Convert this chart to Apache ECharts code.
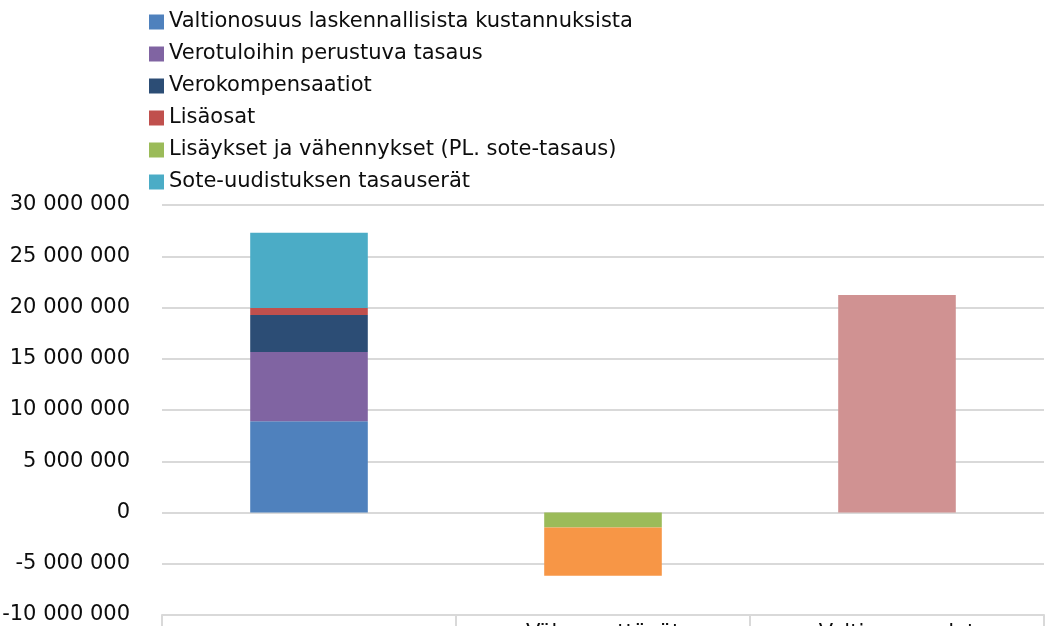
<!DOCTYPE html>
<html>
<head>
<meta charset="utf-8">
<script src="https://cdn.jsdelivr.net/npm/echarts@6/dist/echarts.min.js"></script>
<style>
  html, body { margin: 0; padding: 0; background: #fff; }
  #chart { width: 1048px; height: 626px; }
</style>
</head>
<body>
<div id="chart"></div>
<script>
// categories (labels are cut off at the bottom of the picture)
const categories = ['', 'Vähennettävät', 'Valtionosuudet']

// series values, one per stack segment
const laskennalliset = [8900000, null, null]
const verotulotasaus = [6760000, null, null]
const verokompensaatiot = [3620000, null, null]
const lisaosat = [680000, null, null]
const lisaykset = [null, -1470000, null]
const sotetasaus = [7340000, null, null]
const vahennykset = [null, -4690000, null]
const yhteensa = [null, null, 21230000]

const legendNames = [
  'Valtionosuus laskennallisista kustannuksista',
  'Verotuloihin perustuva tasaus',
  'Verokompensaatiot',
  'Lisäosat',
  'Lisäykset ja vähennykset (PL. sote-tasaus)',
  'Sote-uudistuksen tasauserät'
]

const font = 'DejaVu Sans'
const chart = echarts.init(document.getElementById('chart'))

function bar(name, data, color) {
  return {
    name: name,
    type: 'bar',
    stack: 'total',
    barWidth: '40%',
    itemStyle: { color: color },
    data: data
  }
}

chart.setOption({
  animation: false,
  textStyle: { fontFamily: font },
  legend: {
    orient: 'vertical',
    left: 144,
    top: 5,
    itemWidth: 15,
    itemHeight: 15,
    itemGap: 8,
    icon: 'rect',
    data: legendNames,
    textStyle: { fontFamily: font, fontSize: 21, lineHeight: 24, color: '#0d0d0d' }
  },
  grid: {
    left: 162,
    right: 4,
    top: 205,
    bottom: 11,
    containLabel: false,
    outerBoundsMode: 'none'
  },
  xAxis: {
    type: 'category',
    data: categories,
    axisLine: { onZero: false, lineStyle: { color: '#d9d9d9', width: 2 } },
    axisTick: { show: true, length: 20, lineStyle: { color: '#d9d9d9', width: 2 } },
    axisLabel: { fontFamily: font, fontSize: 21, color: '#0d0d0d', margin: 8 }
  },
  yAxis: {
    type: 'value',
    min: -10000000,
    max: 30000000,
    interval: 5000000,
    axisLine: { show: false },
    axisTick: { show: false },
    splitLine: { lineStyle: { color: '#d9d9d9', width: 2 } },
    axisLabel: {
      fontFamily: font,
      fontSize: 21,
      color: '#0d0d0d',
      margin: 32,
      formatter: function (v) {
        return String(v).replace(/\B(?=(\d{3})+(?!\d))/g, ' ')
      }
    }
  },
  series: [
    bar(legendNames[0], laskennalliset, '#4F81BD'),
    bar(legendNames[1], verotulotasaus, '#8064A2'),
    bar(legendNames[2], verokompensaatiot, '#2C4D75'),
    bar(legendNames[3], lisaosat, '#C0504D'),
    bar(legendNames[4], lisaykset, '#9BBB59'),
    bar(legendNames[5], sotetasaus, '#4BACC6'),
    bar('Muut vähennykset', vahennykset, '#F79646'),
    bar('Valtionosuus yhteensä', yhteensa, '#D09292')
  ]
})
</script>
</body>
</html>
